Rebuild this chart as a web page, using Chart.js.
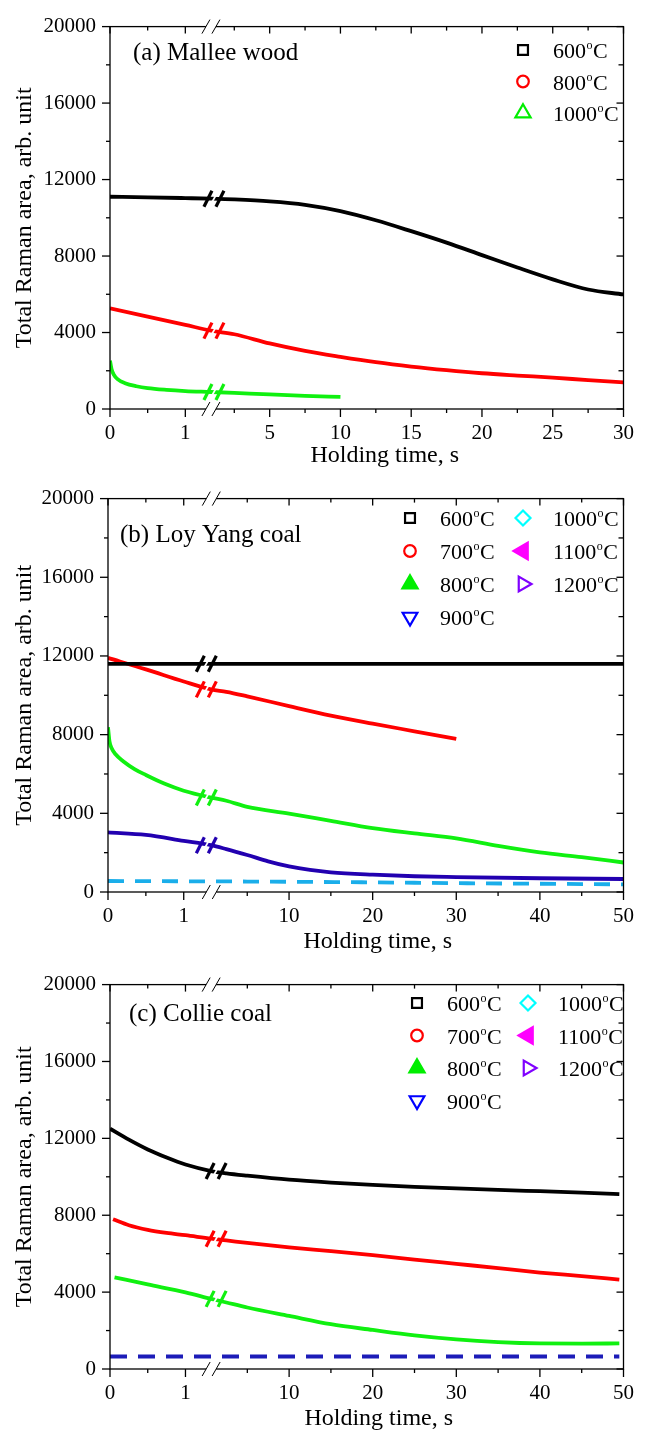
<!DOCTYPE html>
<html>
<head>
<meta charset="utf-8">
<script src="https://cdn.jsdelivr.net/npm/chart.js@4.4.1/dist/chart.umd.min.js"></script>
<style>
  body { margin: 0; background: #fff; }
  canvas { display: block; }
</style>
</head>
<body>
<canvas id="chartA" width="646" height="472"></canvas>
<canvas id="chartB" width="646" height="486"></canvas>
<canvas id="chartC" width="646" height="477"></canvas>
<script>
const FONT = "'Liberation Serif', 'Times New Roman', Times, serif";

// Eixo Y comum aos três painéis
const yMajor = [0, 4000, 8000, 12000, 16000, 20000];
const yMinor = [2000, 6000, 10000, 14000, 18000];

// (a) Mallee wood
const ticksA = [0, 1, 5, 10, 15, 20, 25, 30];
const minorA = [0.5, 2.5, 7.5, 12.5, 17.5, 22.5, 27.5];
const timeA600 = [0, 0.5, 1, 1.34, 2.5, 5, 7.5, 10, 12.5, 15, 17.5, 20, 22.5, 25, 27.5, 30];
const areaA600 = [11100, 11070, 11030, 11000, 10960, 10860, 10680, 10350, 9870, 9300, 8700, 8050, 7400, 6780, 6250, 5990];
const timeA800 = [0, 0.5, 1, 1.34, 2.5, 5, 7.5, 10, 12.5, 15, 17.5, 20, 22.5, 25, 27.5, 30];
const areaA800 = [5260, 4830, 4400, 4100, 3910, 3430, 3040, 2730, 2450, 2220, 2030, 1870, 1750, 1640, 1510, 1390];
const timeA1000 = [0, 0.02, 0.05, 0.1, 0.2, 0.35, 0.5, 0.75, 1, 1.34, 2.5, 5, 7.5, 10];
const areaA1000 = [2530, 2100, 1800, 1560, 1350, 1190, 1090, 1000, 940, 890, 840, 760, 690, 630];
const legendA = ['600', '800', '1000'];

// (b) Loy Yang coal
const ticksB = [0, 1, 10, 20, 30, 40, 50];
const minorB = [0.5, 5, 15, 25, 35, 45];
const timeB600 = [0, 1.36, 10, 20, 30, 40, 50];
const areaB600 = [11600, 11600, 11600, 11600, 11600, 11600, 11600];
const timeB700 = [0, 0.5, 1, 1.36, 2.5, 5, 10, 15, 20, 25, 30];
const areaB700 = [11900, 11320, 10700, 10300, 10180, 9950, 9450, 8970, 8560, 8170, 7780];
const timeB800 = [0, 0.02, 0.05, 0.1, 0.2, 0.35, 0.5, 0.75, 1, 1.36, 2.5, 5, 10, 15, 20, 25, 30, 35, 40, 45, 50];
const areaB800 = [8380, 7650, 7300, 7000, 6650, 6250, 5950, 5500, 5150, 4800, 4640, 4330, 3990, 3620, 3250, 2980, 2730, 2350, 2020, 1770, 1500];
const timeB900 = [0, 0.5, 1, 1.36, 2.5, 5, 7.5, 10, 12.5, 15, 20, 25, 30, 40, 50];
const areaB900 = [3030, 2900, 2600, 2380, 2180, 1880, 1560, 1300, 1120, 1000, 880, 800, 760, 700, 660];
const timeB1000 = [0, 1.36, 10, 20, 30, 40, 50];
const areaB1000 = [560, 540, 520, 490, 450, 420, 390];
const legendBC = ['600', '700', '800', '900', '1000', '1100', '1200'];

// (c) Collie coal
const ticksC = [0, 1, 10, 20, 30, 40, 50];
const minorC = [0.5, 5, 15, 25, 35, 45];
const timeC600 = [0, 0.25, 0.5, 0.75, 1, 1.34, 2.5, 5, 10, 15, 20, 25, 30, 35, 40, 45, 49.5];
const areaC600 = [12500, 11930, 11420, 11000, 10640, 10300, 10180, 10060, 9850, 9700, 9580, 9480, 9400, 9320, 9250, 9180, 9100];
const timeC700 = [0.04, 0.25, 0.5, 0.75, 1, 1.34, 2.5, 5, 10, 15, 20, 25, 30, 35, 40, 45, 49.5];
const areaC700 = [7790, 7480, 7240, 7080, 6960, 6780, 6690, 6560, 6330, 6130, 5920, 5690, 5470, 5250, 5020, 4830, 4650];
const timeC800 = [0.06, 0.5, 1, 1.34, 2.5, 5, 10, 15, 20, 25, 30, 35, 40, 45, 49.5];
const areaC800 = [4770, 4400, 3990, 3650, 3460, 3200, 2760, 2330, 2030, 1750, 1540, 1400, 1330, 1320, 1330];
const timeC900 = [0, 1.34, 10, 20, 30, 40, 49.5];
const areaC900 = [650, 650, 650, 650, 650, 650, 650];

// Marcadores da legenda (estilo Origin)
const markers = {
  '600': { style: 'rect', r: 7, color: '#000000', fill: false },
  '700': { style: 'circle', r: 5.8, color: '#ff0000', fill: false },
  '800': { style: 'triangle', r: 8.8, color: '#00ee00', fill: true },
  '900': { style: 'triangle', r: 8.5, rot: 180, color: '#0000ff', fill: false },
  '1000': { style: 'rectRot', r: 7.5, color: '#00ffff', fill: false },
  '1100': { style: 'triangle', r: 9.5, rot: 270, color: '#ff00ff', fill: true },
  '1200': { style: 'triangle', r: 8.5, rot: 90, color: '#8000ff', fill: false }
};

const panels = [
  {
    id: 'chartA', top: 21, left: 110, right: 634, xAxisH: 63,
    leftMax: 1.34, rightMin: 0.85, xMax: 30, breakFrac: 103 / 524, markShift: 3,
    xMajor: ticksA, xMinor: minorA, xTitleShift: 3,
    label: '(a) Mallee wood', labelPos: [133, 60],
    legend: legendA.map(t => t === '800' ? { temp: t, ...markers['700'] } : t === '1000' ? { temp: t, ...markers['800'], fill: false } : { temp: t, ...markers[t] }),
    legendX: [523], legendY: 50, legendDy: 31.5, legendRows: 3,
    series: [
      { t: timeA600, v: areaA600, color: '#000000', mark: true },
      { t: timeA800, v: areaA800, color: '#ff0000', mark: true },
      { t: timeA1000, v: areaA1000, color: '#10f010', mark: true }
    ]
  },
  {
    id: 'chartB', top: 24, left: 108, right: 632, xAxisH: 66,
    leftMax: 1.364, rightMin: 0.7, xMax: 50, breakFrac: 105 / 524, markShift: -5,
    xMajor: ticksB, xMinor: minorB, xTitleShift: 2,
    label: '(b) Loy Yang coal', labelPos: [120, 70],
    legend: legendBC.map(t => ({ temp: t, ...markers[t] })),
    legendX: [410, 523], legendY: 46, legendDy: 33, legendRows: 4,
    series: [
      { t: timeB600, v: areaB600, color: '#000000', mark: true },
      { t: timeB700, v: areaB700, color: '#ff0000', mark: true },
      { t: timeB800, v: areaB800, color: '#10f010', mark: true },
      { t: timeB900, v: areaB900, color: '#2200b0', mark: true },
      { t: timeB1000, v: areaB1000, color: '#1aaeea', dash: [16, 11] }
    ]
  },
  {
    id: 'chartC', top: 21, left: 110, right: 633, xAxisH: 66,
    leftMax: 1.34, rightMin: 0.67, xMax: 50, breakFrac: 103 / 523, markShift: 5,
    xMajor: ticksC, xMinor: minorC, xTitleShift: 2,
    label: '(c) Collie coal', labelPos: [129, 63],
    legend: legendBC.map(t => ({ temp: t, ...markers[t] })),
    legendX: [417, 528], legendY: 45, legendDy: 32.5, legendRows: 4,
    series: [
      { t: timeC600, v: areaC600, color: '#000000', mark: true },
      { t: timeC700, v: areaC700, color: '#ff0000', mark: true },
      { t: timeC800, v: areaC800, color: '#10f010', mark: true },
      { t: timeC900, v: areaC900, color: '#1c1cb8', dash: [17, 11] }
    ]
  }
];

// Eixo quebrado: tempo real -> posição 0..1 no eixo
function breakTransform(p) {
  return t => t <= p.leftMax
    ? t / p.leftMax * p.breakFrac
    : p.breakFrac + (t - p.rightMin) / (p.xMax - p.rightMin) * (1 - p.breakFrac);
}

// Moldura, ticks para dentro/fora, quebras, rótulo e legenda
function panelDecor(p, tf) {
  return {
    id: 'panelDecor',
    afterDraw(chart) {
      const { ctx, chartArea: ca, scales: { x, y } } = chart;
      const seg = (x0, y0, x1, y1) => { ctx.beginPath(); ctx.moveTo(x0, y0); ctx.lineTo(x1, y1); ctx.stroke(); };
      ctx.save();
      ctx.strokeStyle = '#000';
      ctx.lineWidth = 1.3;
      ctx.strokeRect(ca.left, ca.top, ca.right - ca.left, ca.bottom - ca.top);

      p.xMajor.forEach(t => { const px = x.getPixelForValue(tf(t)); seg(px, ca.bottom, px, ca.bottom + 8); seg(px, ca.top, px, ca.top + 7); });
      p.xMinor.forEach(t => { const px = x.getPixelForValue(tf(t)); seg(px, ca.bottom, px, ca.bottom + 4); seg(px, ca.top, px, ca.top + 4); });
      yMajor.forEach(v => { const py = y.getPixelForValue(v); seg(ca.left - 8, py, ca.left, py); seg(ca.right - 7, py, ca.right, py); });
      yMinor.forEach(v => { const py = y.getPixelForValue(v); seg(ca.left - 4, py, ca.left, py); seg(ca.right - 5, py, ca.right, py); });

      // quebra nos eixos superior e inferior
      const bx = x.getPixelForValue(p.breakFrac);
      [ca.top, ca.bottom].forEach(ay => {
        ctx.fillStyle = '#fff';
        ctx.fillRect(bx - 5, ay - 2, 10, 4);
        ctx.lineWidth = 1;
        seg(bx - 9, ay + 7, bx - 1, ay - 7);
        seg(bx + 1, ay + 7, bx + 9, ay - 7);
      });

      // quebra nas curvas
      p.series.forEach(s => {
        if (!s.mark) return;
        let k = 0;
        while (k + 1 < s.t.length && s.t[k + 1] <= p.leftMax) k++;
        const cx = bx + p.markShift;
        const cy = y.getPixelForValue(s.v[k]);
        ctx.fillStyle = '#fff';
        ctx.beginPath();
        ctx.moveTo(cx - 5, cy + 7); ctx.lineTo(cx + 3, cy - 7);
        ctx.lineTo(cx + 5, cy - 7); ctx.lineTo(cx - 3, cy + 7);
        ctx.closePath(); ctx.fill();
        ctx.strokeStyle = s.color;
        ctx.lineWidth = 3.2;
        seg(cx - 10, cy + 8, cx - 2, cy - 8);
        seg(cx + 2, cy + 8, cx + 10, cy - 8);
      });

      // rótulo do painel
      ctx.fillStyle = '#000';
      ctx.textAlign = 'left';
      ctx.textBaseline = 'alphabetic';
      ctx.font = `25px ${FONT}`;
      ctx.fillText(p.label, p.labelPos[0], p.labelPos[1]);

      // legenda
      p.legend.forEach((item, i) => {
        const col = Math.floor(i / p.legendRows);
        const row = i % p.legendRows;
        const mx = p.legendX[col];
        const my = p.legendY + row * p.legendDy;
        ctx.fillStyle = item.fill ? item.color : '#fff';
        ctx.strokeStyle = item.color;
        ctx.lineWidth = 2.2;
        Chart.helpers.drawPoint(ctx, { pointStyle: item.style, rotation: item.rot || 0, radius: item.r, borderWidth: 2.2 }, mx, my);
        ctx.fillStyle = '#000';
        let tx = mx + 30;
        ctx.font = `22px ${FONT}`;
        ctx.fillText(item.temp, tx, my + 8);
        tx += ctx.measureText(item.temp).width;
        ctx.font = `12px ${FONT}`;
        ctx.fillText('o', tx + 0.5, my - 1);
        tx += ctx.measureText('o').width + 1;
        ctx.font = `22px ${FONT}`;
        ctx.fillText('C', tx, my + 8);
      });
      ctx.restore();
    }
  };
}

function buildChart(p) {
  const tf = breakTransform(p);
  new Chart(document.getElementById(p.id), {
    type: 'line',
    data: {
      datasets: p.series.map(s => ({
        data: s.t.map((t, i) => ({ x: tf(t), y: s.v[i] })),
        borderColor: s.color,
        borderWidth: 3.8,
        borderDash: s.dash || [],
        pointRadius: 0,
        fill: false,
        cubicInterpolationMode: 'monotone'
      }))
    },
    options: {
      responsive: false,
      animation: false,
      layout: { padding: { top: p.top, right: 646 - p.right, left: 0, bottom: 0 } },
      plugins: { legend: { display: false }, tooltip: { enabled: false } },
      scales: {
        x: {
          type: 'linear', min: 0, max: 1,
          afterFit: s => { s.height = p.xAxisH; },
          afterBuildTicks: s => { s.ticks = p.xMajor.map(t => ({ value: tf(t) })); },
          ticks: {
            autoSkip: false, maxRotation: 0, padding: 12, color: '#000',
            font: { family: FONT, size: 21 },
            callback: (v, i) => String(p.xMajor[i])
          },
          grid: { display: false, drawTicks: false },
          border: { display: false },
          title: {
            display: true, text: '\u2002'.repeat(p.xTitleShift) + 'Holding time, s', color: '#000',
            font: { family: FONT, size: 24 }, padding: { top: 0, bottom: 2 }
          }
        },
        y: {
          min: 0, max: 20000,
          afterFit: s => { s.width = p.left; },
          afterBuildTicks: s => { s.ticks = yMajor.map(v => ({ value: v })); },
          ticks: {
            padding: 14, color: '#000',
            font: { family: FONT, size: 21 },
            callback: v => String(v)
          },
          grid: { display: false, drawTicks: false },
          border: { display: false },
          title: { display: true, text: 'Total Raman area, arb. unit', color: '#000', font: { family: FONT, size: 24 }, padding: { top: 10, bottom: 0 } }
        }
      }
    },
    plugins: [panelDecor(p, tf)]
  });
}

panels.forEach(buildChart);
</script>
</body>
</html>
